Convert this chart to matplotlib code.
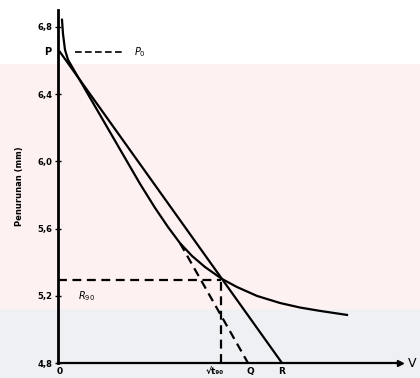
import numpy as np
import matplotlib
matplotlib.use('Agg')
import matplotlib.pyplot as plt
from matplotlib.patches import Rectangle

# settlement curve (sqrt-time method)
curve_x = [0.2, 0.25, 0.35, 0.5, 0.85, 2.7, 4.1, 4.85, 5.5, 6.1, 6.7, 7.35,
           8.2, 8.95, 9.95, 11.1, 12.1, 13.1, 14.45]
curve_y = [6.842, 6.758, 6.663, 6.604, 6.532, 6.153, 5.866, 5.723, 5.609,
           5.513, 5.437, 5.371, 5.30, 5.252, 5.199, 5.157, 5.13, 5.11, 5.086]

p0 = 6.65          # corrected zero reading
r90 = 5.294        # reading at 90 %
x_vt90 = 8.15
x_q = 9.5
x_r = 11.2
x_depart = 6.1     # where curve leaves the initial tangent
y_depart = 5.513

yticks = [4.8, 5.2, 5.6, 6.0, 6.4, 6.8]
ytick_labels = ['4,8', '5,2', '5,6', '6,0', '6,4', '6,8']

fig = plt.figure(figsize=(4.2, 3.78), dpi=100)
fig.patches.append(Rectangle((0, 0), 1, 0.185, transform=fig.transFigure,
                             color='#eff0f4', zorder=-10))
fig.patches.append(Rectangle((0, 0.185), 1, 0.645, transform=fig.transFigure,
                             color='#fdf1f1', zorder=-10))

ax = fig.add_axes([58 / 420, 15 / 378, 342 / 420, 353 / 378])
ax.patch.set_alpha(0)
ax.set_xlim(0, 17.1)
ax.set_ylim(4.8, 6.9)

lw = 1.6
k = 'black'
ax.plot(curve_x, curve_y, color=k, lw=lw, solid_joinstyle='round')
# line P-R
ax.plot([0.1, x_r], [p0, 4.8], color=k, lw=lw)
# initial tangent continued (dashed) to Q
ax.plot([x_depart, x_q], [y_depart, 4.8], color=k, lw=lw, ls=(0, (4, 2.5)))
# R90 horizontal and Vt90 vertical
ax.plot([0, x_vt90], [r90, r90], color=k, lw=lw, ls=(0, (4, 2.5)))
ax.plot([x_vt90, x_vt90], [4.8, r90], color=k, lw=lw, ls=(0, (4, 2.5)))
# P0 marker line
ax.plot([0.85, 3.35], [p0, p0], color=k, lw=1.2, ls=(0, (4, 2)))

for s in ['top', 'right']:
    ax.spines[s].set_visible(False)
ax.spines['left'].set_linewidth(2)
ax.spines['bottom'].set_linewidth(1.6)
ax.plot(1.0, 4.8, '>', color=k, ms=4, transform=ax.get_yaxis_transform(),
        clip_on=False)

ax.set_yticks(yticks)
ax.set_yticklabels(ytick_labels, fontsize=6, fontweight='bold')
ax.tick_params(axis='y', direction='inout', length=4, width=1, pad=2)
ax.set_xticks([])
ax.set_ylabel('Penurunan (mm)', fontsize=6, fontweight='bold', labelpad=10)

tk = dict(fontsize=6.5, fontweight='bold', ha='center', va='top')
yb = 4.775
ax.text(0.1, yb, '0', **tk)
ax.text(x_vt90 - 0.3, yb, '√t₉₀', **tk)
ax.text(x_q + 0.1, yb, 'Q', **tk)
ax.text(x_r, yb, 'R', **tk)
ax.text(17.5, 4.8, 'V', fontsize=9, ha='left', va='center', clip_on=False)
ax.text(-0.35, p0, 'P', fontsize=7, fontweight='bold', ha='right', va='center')
ax.text(3.8, p0, r'$P_0$', fontsize=7, ha='left', va='center')
ax.text(1.0, 5.2, r'$R_{90}$', fontsize=7, ha='left', va='center')

fig.savefig('out.png', dpi=100)
